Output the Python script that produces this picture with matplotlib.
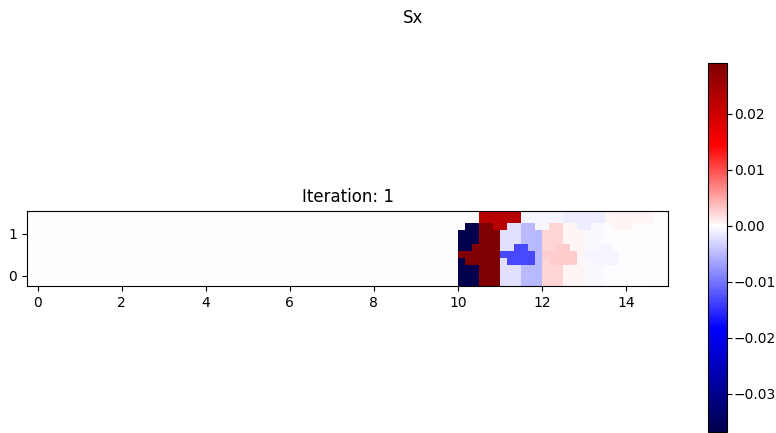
import numpy as np
import matplotlib
matplotlib.use("Agg")
import matplotlib.pyplot as plt
from matplotlib.colors import ListedColormap, Normalize, TwoSlopeNorm
from matplotlib.cm import ScalarMappable

# ---------------- data ----------------
suptitle_text = "Sx"
title_text = "Iteration: 1"

# value of each colour level seen in the field
levels = {
    "N": -0.0368,   # navy (minimum)
    "D": 0.0291,    # dark red (maximum)
    "R": 0.0225,    # bright red
    "B": -0.0131,   # blue
    "M": -0.0051,   # medium blue
    "L": -0.0022,   # light blue
    "m": -0.0012,   # lavender
    "l": -0.00074,  # faint lavender
    "k": -0.0004,   # very faint lavender
    "w": -0.0002,   # near white (bluish)
    "o": 0.0001,    # near white (pinkish)
    "e": 0.00015,   # background
    "f": 0.0004,    # faint pink
    "p": 0.00065,   # light pink
    "P": 0.0022,    # pink
    "Q": 0.0029,    # deeper pink
}
background_level = "e"
n_background_cols = 62          # columns left of x = 10
# region x in [10, 15], 30 columns, rows listed from top to bottom
field_rows = [
    "eeeRRRRRRllllllmmmmmmfffffffww",
    "eeeRRRRRRllllllmmmmmmfffffffww",
    "eNNDDRRLLMMllPPppmmkkwfffwwwww",
    "NNNDDDLLLMMMPPPpppkkkwwwooowww",
    "NNNDDDLLLMMMPPPpppkkkwwwooowww",
    "NNDDDDLLBBMMPPQQppkkllwwooeeww",
    "DDDDDDBBBBBMQQQQQplllllweeeeew",
    "NDDDDDLBBBBMPQQQQpkllllwoeeeew",
    "NNNDDDLLLMMMPPPpppkkkwwwooowww",
    "NNNDDDLLLMMMPPPpppkkkwwwooowww",
    "NNNDDDLLLMMMPPPpppkkkwwwooowww",
]
x_ticks = [0, 2, 4, 6, 8, 10, 12, 14]
y_ticks = [0, 1]
cbar_ticks = [-0.03, -0.02, -0.01, 0.00, 0.01, 0.02]

# ---------------- build the field ----------------
field = np.array(
    [[levels[background_level]] * n_background_cols + [levels[c] for c in row]
     for row in field_rows[::-1]]
)
n_rows, n_cols = field.shape
cell = 1.0 / 6.0
x0, y0 = 10.0 - n_background_cols * cell, -0.25
extent = (x0, x0 + n_cols * cell, y0, y0 + n_rows * cell)

vmin, vmax = field.min(), field.max()
# seismic centred at zero, shown on a linear colour bar
vals = np.linspace(vmin, vmax, 512)
base = plt.get_cmap("seismic")
cmap = ListedColormap(base(TwoSlopeNorm(vcenter=0.0, vmin=vmin, vmax=vmax)(vals)))
norm = Normalize(vmin=vmin, vmax=vmax)

# ---------------- figure ----------------
W, H = 776, 433
fig = plt.figure(figsize=(W / 100, H / 100), dpi=100)
fig.suptitle(suptitle_text, x=413 / W)

ax = fig.add_axes([27 / W, (H - 287) / H, 641 / W, 77 / H])
ax.imshow(field, cmap=cmap, norm=norm, origin="lower", extent=extent,
          interpolation="nearest", aspect="equal")
ax.set_xlim(-0.25, 15.0)
ax.set_ylim(-0.25, 1.55)
ax.set_xticks(x_ticks)
ax.set_yticks(y_ticks)
ax.set_title(title_text)

cax = fig.add_axes([708 / W, 1 / H, 19 / W, 369 / H])
cb = fig.colorbar(ScalarMappable(norm=norm, cmap=cmap), cax=cax)
cb.set_ticks(cbar_ticks)
cax.tick_params(pad=1.5)

fig.savefig("out.png", dpi=100)
